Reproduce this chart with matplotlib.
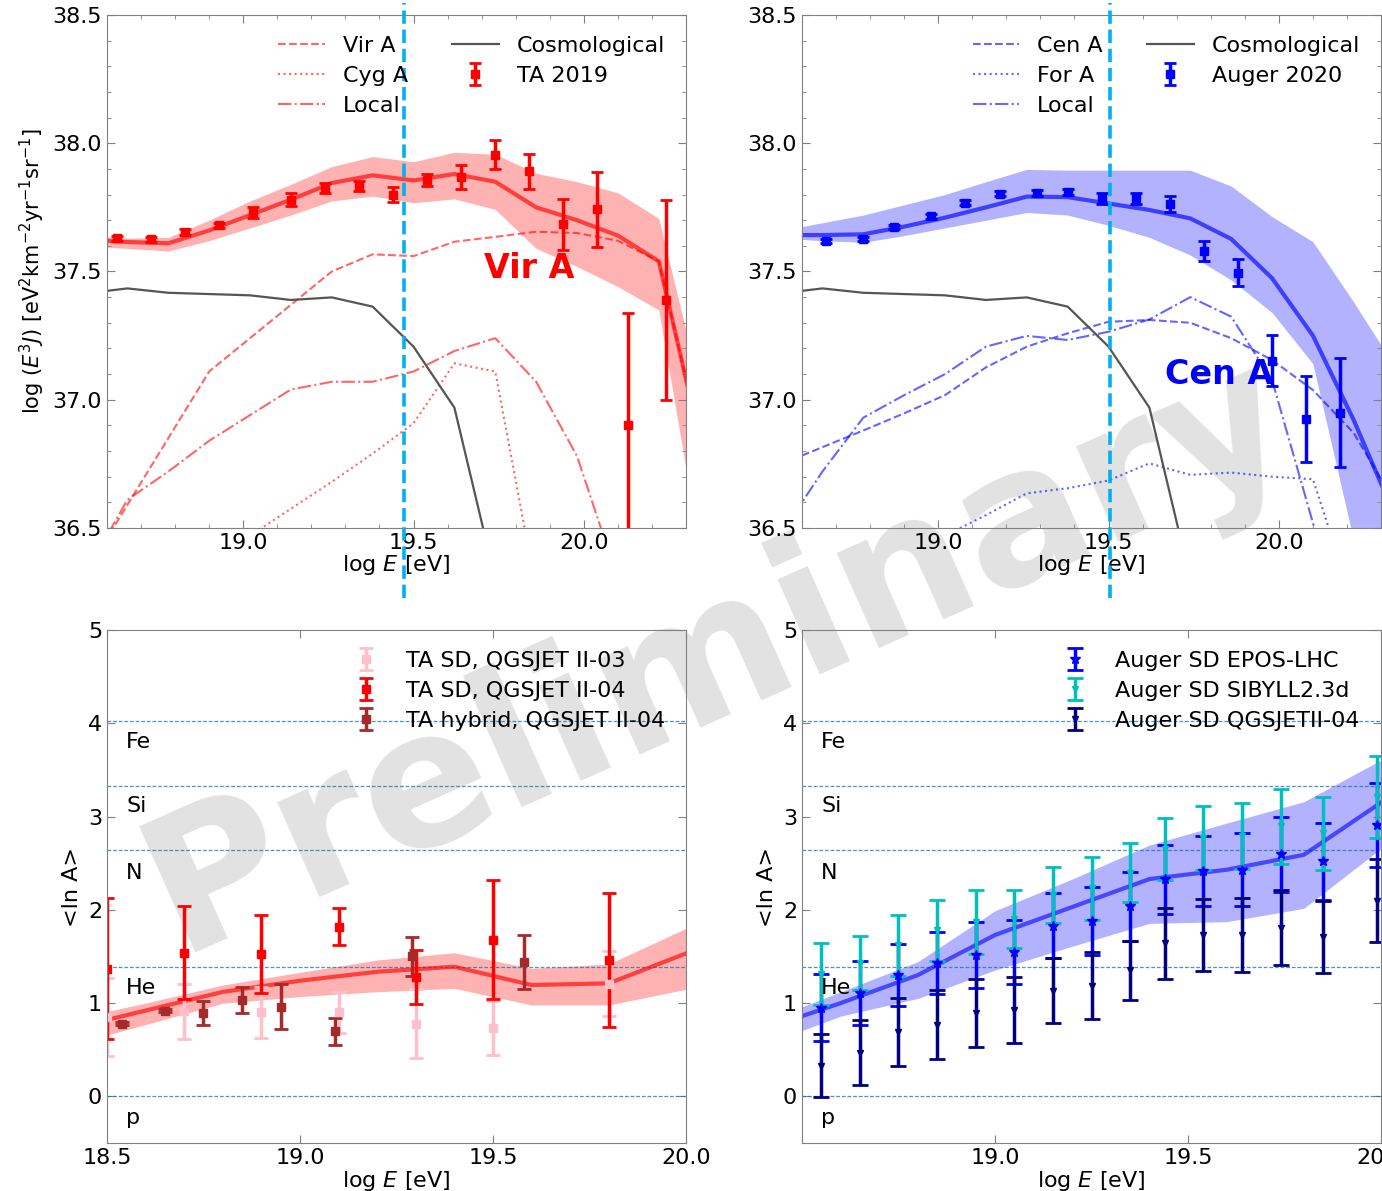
import matplotlib
matplotlib.use('Agg')
import matplotlib.pyplot as plt

# ---- top panels: E^3 J spectra ----
# model energy grid (log E)
grid_top = [18.54, 18.66, 18.78, 18.90, 19.02, 19.14, 19.26, 19.38, 19.50, 19.62, 19.74, 19.86, 19.98, 20.10, 20.22, 20.34]

cosmo = [37.415, 37.434, 37.417, 37.412, 37.407, 37.389, 37.399, 37.363, 37.207, 36.969, 36.30]

# Vir A side (TA)
vir_a = [36.33, 36.59, 36.85, 37.11, 37.24, 37.37, 37.50, 37.567, 37.56, 37.616, 37.635, 37.655, 37.65, 37.62, 37.54, 36.85]
cyg_a = [36.47, 36.575, 36.68, 36.79, 36.908, 37.142, 37.11, 36.26]  # from 19.02
local_n = [36.33, 36.61, 36.72, 36.84, 36.94, 37.04, 37.07, 37.07, 37.11, 37.19, 37.24, 37.07, 36.78, 36.30]
vir_fit = [37.625, 37.615, 37.61, 37.66, 37.72, 37.78, 37.845, 37.875, 37.855, 37.88, 37.85, 37.75, 37.70, 37.64, 37.54, 36.85]
vir_lo = [37.60, 37.59, 37.58, 37.62, 37.67, 37.72, 37.775, 37.794, 37.768, 37.783, 37.742, 37.59, 37.519, 37.441, 37.35, 36.42]
vir_hi = [37.64, 37.63, 37.633, 37.70, 37.775, 37.84, 37.909, 37.948, 37.928, 37.965, 37.957, 37.883, 37.85, 37.807, 37.707, 37.05]

ta_x = [18.63, 18.73, 18.83, 18.93, 19.03, 19.14, 19.24, 19.34, 19.44, 19.54, 19.64, 19.74, 19.84, 19.94, 20.04, 20.13, 20.24]
ta_y = [37.63, 37.625, 37.654, 37.68, 37.73, 37.78, 37.825, 37.833, 37.80, 37.857, 37.867, 37.955, 37.89, 37.684, 37.742, 36.90, 37.389]
ta_err = [0.01, 0.01, 0.01, 0.01, 0.02, 0.025, 0.02, 0.02, 0.03, 0.025, 0.047, 0.057, 0.067, 0.10, 0.145, 0.44, 0.39]

# Cen A side (Auger)
cen_a = [36.75, 36.815, 36.88, 36.947, 37.018, 37.126, 37.207, 37.259, 37.304, 37.311, 37.30, 37.24, 37.155, 37.038, 36.87, 36.60]
for_a = [36.47, 36.55, 36.635, 36.655, 36.685, 36.752, 36.707, 36.716, 36.70, 36.69, 36.20]  # from 19.02
local_s = [36.48, 36.72, 36.93, 37.018, 37.10, 37.207, 37.249, 37.233, 37.265, 37.313, 37.40, 37.324, 37.077, 36.52, 35.90]
cen_fit = [37.642, 37.642, 37.645, 37.675, 37.71, 37.75, 37.792, 37.79, 37.765, 37.74, 37.707, 37.627, 37.474, 37.25, 36.92, 36.55]
cen_lo = [37.63, 37.62, 37.614, 37.64, 37.67, 37.70, 37.73, 37.72, 37.68, 37.633, 37.564, 37.467, 37.34, 37.14, 36.45, 36.00]
cen_hi = [37.66, 37.69, 37.72, 37.76, 37.80, 37.85, 37.898, 37.895, 37.895, 37.895, 37.895, 37.833, 37.714, 37.616, 37.38, 37.13]

au_x = [18.67, 18.78, 18.87, 18.98, 19.08, 19.18, 19.29, 19.38, 19.48, 19.58, 19.68, 19.78, 19.88, 19.98, 20.08, 20.18]
au_y = [37.619, 37.625, 37.675, 37.716, 37.768, 37.803, 37.806, 37.81, 37.785, 37.785, 37.763, 37.58, 37.495, 37.152, 36.926, 36.95]
au_err = [0.008, 0.008, 0.008, 0.01, 0.01, 0.01, 0.01, 0.01, 0.022, 0.02, 0.03, 0.04, 0.052, 0.10, 0.167, 0.214]

# ---- bottom panels: <ln A> ----
grid_bot = [18.4, 18.6, 18.8, 19.0, 19.2, 19.4, 19.6, 19.8, 20.0]
ta_lna_fit = [0.72, 0.92, 1.12, 1.24, 1.336, 1.39, 1.194, 1.212, 1.533]
ta_lna_lo = [0.545, 0.77, 0.998, 1.07, 1.122, 1.158, 0.98, 0.98, 1.148]
ta_lna_hi = [0.82, 1.0, 1.194, 1.33, 1.462, 1.54, 1.373, 1.419, 1.802]

tasd3_x = [18.50, 18.70, 18.90, 19.10, 19.30, 19.50, 19.80]
tasd3_y = [0.85, 0.91, 0.90, 0.90, 0.78, 0.73, 1.21]
tasd3_err = [0.42, 0.29, 0.27, 0.22, 0.37, 0.29, 0.35]
tasd4_x = [18.50, 18.70, 18.90, 19.10, 19.30, 19.50, 19.80]
tasd4_y = [1.37, 1.54, 1.53, 1.82, 1.28, 1.68, 1.46]
tasd4_err = [0.76, 0.50, 0.42, 0.20, 0.29, 0.64, 0.72]
tahy_x = [18.54, 18.65, 18.75, 18.85, 18.95, 19.09, 19.29, 19.58]
tahy_y = [0.78, 0.92, 0.89, 1.03, 0.96, 0.70, 1.50, 1.44]
tahy_err = [0.02, 0.02, 0.13, 0.14, 0.24, 0.145, 0.205, 0.29]

au_lna_fit = [0.72, 1.0, 1.30, 1.73, 2.03, 2.33, 2.43, 2.59, 3.15]
au_lna_lo = [0.55, 0.86, 1.05, 1.354, 1.61, 1.855, 1.873, 2.016, 2.659]
au_lna_hi = [0.80, 1.12, 1.444, 1.99, 2.33, 2.695, 2.93, 3.159, 3.606]

ausd_x = [18.55, 18.65, 18.75, 18.85, 18.95, 19.05, 19.15, 19.25, 19.35, 19.44, 19.54, 19.64, 19.74, 19.85, 19.99]
epos_y = [0.95, 1.11, 1.30, 1.43, 1.515, 1.55, 1.83, 1.88, 2.04, 2.33, 2.415, 2.43, 2.595, 2.52, 2.91]
epos_err = [0.36, 0.34, 0.33, 0.33, 0.35, 0.34, 0.35, 0.36, 0.37, 0.37, 0.375, 0.39, 0.40, 0.415, 0.455]
sib_y = [1.31, 1.43, 1.62, 1.78, 1.87, 1.90, 2.16, 2.23, 2.40, 2.65, 2.77, 2.79, 2.895, 2.82, 3.21]
sib_err = [0.335, 0.29, 0.33, 0.33, 0.34, 0.31, 0.30, 0.335, 0.32, 0.335, 0.345, 0.355, 0.40, 0.39, 0.435]
qgs_y = [0.33, 0.47, 0.69, 0.77, 0.89, 0.925, 1.135, 1.185, 1.35, 1.64, 1.73, 1.73, 1.81, 1.71, 2.10]
qgs_err = [0.335, 0.35, 0.36, 0.37, 0.365, 0.35, 0.345, 0.36, 0.32, 0.38, 0.385, 0.40, 0.40, 0.39, 0.445]

# composition reference lines: ln A of p, He, N, Si, Fe
lnA_lines = [0.0, 1.386, 2.639, 3.332, 4.025]
lnA_names = ['p', 'He', 'N', 'Si', 'Fe']
lnA_text_y = [-0.23, 1.16, 2.40, 3.11, 3.80]

plt.rcParams['font.size'] = 16
plt.rcParams['font.family'] = 'DejaVu Sans'

LEG = dict(frameon=False, fontsize=16, labelspacing=0.45, borderaxespad=0.55)


def style_axes(ax, minor):
    ax.set_facecolor('none')
    for sp in ax.spines.values():
        sp.set_color('gray')
    ax.tick_params(which='both', direction='in', top=True, right=True,
                   color='gray', labelsize=16)
    ax.tick_params(which='major', length=6)
    if minor:
        ax.minorticks_on()
        ax.tick_params(which='minor', length=3)


def spectrum_panel(ax, lines, fit, lo, hi, color, data, label, vline, name, name_xy):
    style_axes(ax, True)
    for x, y, ls, lab in lines:
        ax.plot(x, y, ls=ls, color=color, alpha=0.6, lw=1.5, label=lab)
    ax.plot(grid_top[:len(cosmo)], cosmo, color='#555555', lw=1.6, label='Cosmological')
    ax.fill_between(grid_top, lo, hi, color=color, alpha=0.3, lw=0)
    ax.plot(grid_top, fit, color=color, alpha=0.65, lw=3)
    x, y, e = data
    ax.errorbar(x, y, yerr=e, fmt='s', color=color, ms=6, lw=2.5,
                capsize=4, capthick=2, label=label)
    ax.plot([vline, vline], [-0.136, 1.023], ls='--', color='#00b0f0', lw=2.6,
            transform=ax.get_xaxis_transform(), clip_on=False, zorder=5)
    ax.text(name_xy[0], name_xy[1], name, color=color, fontsize=24,
            fontweight='bold', ha='center', va='center')
    ax.set_xlim(18.6, 20.3)
    ax.set_ylim(36.5, 38.5)
    ax.set_xticks([19.0, 19.5, 20.0])
    ax.set_yticks([36.5, 37.0, 37.5, 38.0, 38.5])
    ax.set_xlabel('log $E$ [eV]', fontsize=16, labelpad=0)
    ax.legend(ncol=2, loc='upper right', handlelength=2.1, **LEG)


def lna_panel(ax):
    style_axes(ax, False)
    for v, n, ty in zip(lnA_lines, lnA_names, lnA_text_y):
        ax.axhline(v, ls='--', color='#1f77b4', lw=0.9, alpha=0.8, dashes=(3, 1.5))
        ax.text(0.033, ty, n, fontsize=16, va='center',
                transform=ax.get_yaxis_transform())
    ax.set_xlim(18.5, 20.0)
    ax.set_ylim(-0.5, 5)
    ax.set_yticks([0, 1, 2, 3, 4, 5])
    ax.set_xlabel('log $E$ [eV]', fontsize=16, labelpad=0.5)
    ax.set_ylabel('<ln A>', fontsize=16)


fig = plt.figure(figsize=(13.82, 11.91), dpi=100)
fig.patch.set_facecolor('white')

ax1 = fig.add_axes([0.0774, 0.5567, 0.4190, 0.4307])
ax2 = fig.add_axes([0.5803, 0.5567, 0.4190, 0.4307])
ax3 = fig.add_axes([0.0774, 0.0403, 0.4190, 0.4307])
ax4 = fig.add_axes([0.5803, 0.0403, 0.4190, 0.4307])

spectrum_panel(ax1,
               [(grid_top, vir_a, '--', 'Vir A'),
                (grid_top[4:4 + len(cyg_a)], cyg_a, ':', 'Cyg A'),
                (grid_top[:len(local_n)], local_n, '-.', 'Local')],
               vir_fit, vir_lo, vir_hi, 'red', (ta_x, ta_y, ta_err), 'TA 2019',
               19.472, 'Vir A', (19.84, 37.51))
ax1.set_ylabel('log ($E^3J$) [eV$^2$km$^{-2}$yr$^{-1}$sr$^{-1}$]', fontsize=15)

spectrum_panel(ax2,
               [(grid_top, cen_a, '--', 'Cen A'),
                (grid_top[4:4 + len(for_a)], for_a, ':', 'For A'),
                (grid_top[:len(local_s)], local_s, '-.', 'Local')],
               cen_fit, cen_lo, cen_hi, 'blue', (au_x, au_y, au_err), 'Auger 2020',
               19.505, 'Cen A', (19.825, 37.10))

# TA composition
lna_panel(ax3)
ax3.fill_between(grid_bot, ta_lna_lo, ta_lna_hi, color='red', alpha=0.3, lw=0)
ax3.plot(grid_bot, ta_lna_fit, color='red', alpha=0.65, lw=3)
ax3.errorbar(tasd3_x, tasd3_y, yerr=tasd3_err, fmt='s', color='pink', ms=6, lw=2.5,
             capsize=5, capthick=2, label='TA SD, QGSJET II-03')
ax3.errorbar(tasd4_x, tasd4_y, yerr=tasd4_err, fmt='s', color='red', ms=6, lw=2.5,
             capsize=5, capthick=2, label='TA SD, QGSJET II-04')
ax3.errorbar(tahy_x, tahy_y, yerr=tahy_err, fmt='s', color='brown', ms=6, lw=2.5,
             capsize=5, capthick=2, label='TA hybrid, QGSJET II-04')
ax3.set_xticks([18.5, 19.0, 19.5, 20.0])
ax3.legend(loc='upper right', **LEG)

# Auger composition
lna_panel(ax4)
ax4.fill_between(grid_bot, au_lna_lo, au_lna_hi, color='blue', alpha=0.3, lw=0)
ax4.plot(grid_bot, au_lna_fit, color='blue', alpha=0.6, lw=3)
ax4.errorbar(ausd_x, epos_y, yerr=epos_err, fmt='*', color='blue', ms=7, lw=2.5,
             capsize=6, capthick=2, label='Auger SD EPOS-LHC')
ax4.errorbar(ausd_x, sib_y, yerr=sib_err, fmt='v', color='c', ms=4, lw=2.5,
             capsize=6, capthick=2, label='Auger SD SIBYLL2.3d')
ax4.errorbar(ausd_x, qgs_y, yerr=qgs_err, fmt='v', color='navy', ms=4, lw=2.5,
             capsize=6, capthick=2, label='Auger SD QGSJETII-04')
ax4.set_xticks([19.0, 19.5, 20.0])
ax4.legend(loc='upper right', **LEG)

# watermark behind everything
fig.text(0.52, 0.45, 'Preliminary', fontsize=136, fontweight='bold', color='#e2e2e2',
         rotation=24, ha='center', va='center', zorder=-1)

fig.savefig('out.png', dpi=100)
